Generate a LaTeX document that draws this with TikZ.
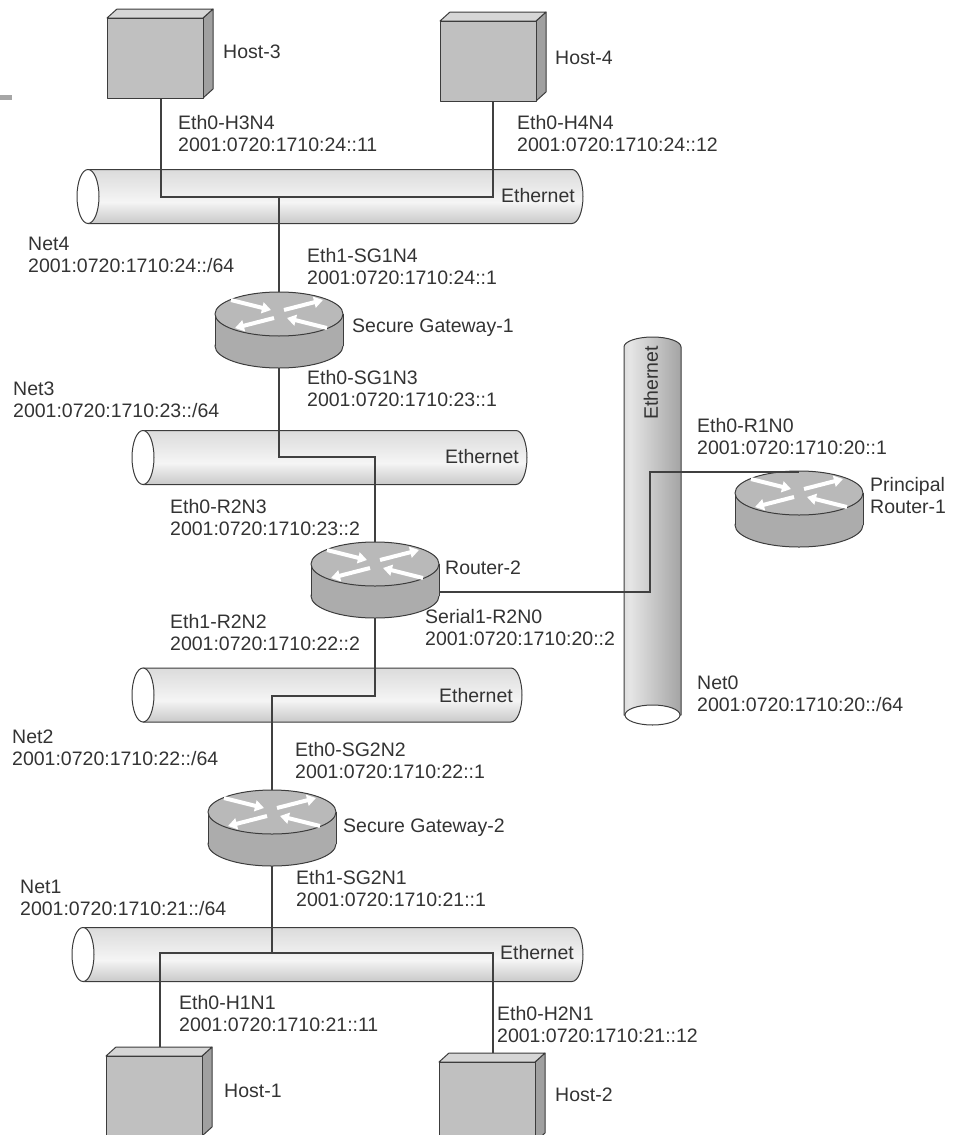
\documentclass[tikz,border=0pt]{standalone}
\usepackage{fontspec}
\setmainfont{Liberation Sans}
\usetikzlibrary{positioning,calc,arrows.meta}
\definecolor{edge}{HTML}{3C3C3C}
\definecolor{wirec}{HTML}{404040}
\definecolor{txt}{HTML}{333333}
\definecolor{hostfront}{HTML}{C0C0C0}
\definecolor{hosttop}{HTML}{D6D6D6}
\definecolor{hostside}{HTML}{A0A0A0}
\definecolor{routertop}{HTML}{B9B9B9}
\definecolor{routerside}{HTML}{ACACAC}
\pgfdeclareverticalshading{hcylshade}{100bp}{color(0bp)=(black!42); color(15bp)=(black!30); color(45bp)=(black!4); color(75bp)=(black!14); color(100bp)=(black!40)}
\pgfdeclarehorizontalshading{vcylshade}{100bp}{color(0bp)=(black!30); color(30bp)=(black!10); color(100bp)=(black!50)}

\tikzset{
  lbl/.style={inner sep=0pt, anchor=west, align=left, text=txt, font=\fontsize{19.5}{22}\selectfont},
  wire/.style={draw=wirec, line width=1.3pt},
  outl/.style={draw=edge, line width=1pt, line join=round},
  pics/host/.style={code={
    \filldraw[outl, fill=hostside] (48,-40) -- (58,-49) -- (58,31) -- (48,40) -- cycle;
    \filldraw[outl, fill=hosttop] (-48,-40) -- (-38,-49) -- (58,-49) -- (48,-40) -- cycle;
    \node[outl, fill=hostfront, minimum width=96pt, minimum height=80pt, inner sep=0pt] (-box) at (0,0) {};
  }},
  pics/router/.style={code={
    \filldraw[outl, fill=routerside] (0,16) ellipse[x radius=64, y radius=22];
    \fill[routerside] (-64,-16) rectangle (64,16);
    \draw[outl] (-64,-16) -- (-64,16) (64,-16) -- (64,16);
    \filldraw[outl, fill=routertop] (0,-16) ellipse[x radius=64, y radius=22];
    \begin{scope}[white, line width=4pt, -{Triangle[length=9pt,width=11pt]}]
      \draw (5,-20) -- (44,-30);
      \draw (-5,-12) -- (-44,-2);
      \draw (-48,-30) -- (-8,-20);
      \draw (48,-2) -- (8,-12);
    \end{scope}
    \node[minimum width=128pt, minimum height=76pt, inner sep=0pt] (-box) at (0,0) {};
  }},
  pics/hcyl/.style={code={
    \shade[shading=hcylshade, outl] (0,-27) -- ({#1-11},-27) arc[start angle=-90, end angle=90, x radius=11, y radius=27] -- (0,27) -- cycle;
    \filldraw[outl, fill=white] (0,0) ellipse[x radius=11, y radius=27];
    \node[minimum width={#1+11}, minimum height=54pt, inner sep=0pt, anchor=west] (-box) at (-11,0) {};
  }}
}

\begin{document}
\begin{tikzpicture}[x=1pt,y=-1pt]
\useasboundingbox (0,0) rectangle (959,1135);
\fill[black!35] (0,95) rectangle (12,100);

\pic (netfour) at (88,196.5) {hcyl=495};
\pic (netthree) at (143,457.5) {hcyl=384};
\pic (nettwo) at (143,695) {hcyl=379};
\pic (netone) at (83,954.5) {hcyl=500};
\shade[shading=vcylshade, outl] (624,715) -- (624,347) arc[start angle=180, end angle=360, x radius=28.5, y radius=10] -- (681,715) -- cycle;
\filldraw[outl, fill=white] (652.5,715) ellipse[x radius=27.5, y radius=10];
\node[minimum width=57pt, minimum height=398pt, inner sep=0pt] (netzero) at (652.5,531) {};

\pic (hostc) at (155,58) {host};
\pic (hostd) at (488,61) {host};
\pic (hosta) at (154,1096) {host};
\pic (hostb) at (487,1102) {host};
\pic (sgone) at (279,330) {router};
\pic (rtwo) at (375,580) {router};
\pic (sgtwo) at (272,828) {router};
\pic (prone) at (799,509) {router};

\coordinate (a4) at (161,197);
\coordinate (b4) at (493,197);
\coordinate (c4) at (279,197);
\coordinate (a3) at (279,457);
\coordinate (b3) at (375,457);
\coordinate (a2) at (375,696);
\coordinate (b2) at (272,696);
\coordinate (a1) at (160,953);
\coordinate (b1) at (493,953);
\coordinate (c1) at (272,953);
\coordinate (a0) at (650,592);
\coordinate (b0) at (650,472);

\draw[wire] (hostc-box.south -| a4) -- (a4) -- (b4) -- (hostd-box.south -| b4);
\draw[wire] (c4) -- (sgone-box.north);
\draw[wire] (sgone-box.south) -- (a3) -- (b3) -- (rtwo-box.north);
\draw[wire] (rtwo-box.south) -- (a2) -- (b2) -- (sgtwo-box.north);
\draw[wire] (sgtwo-box.south) -- (c1);
\draw[wire] ([yshift=9pt]hosta-box.north -| a1) -- (a1) -- (b1) -- ([yshift=9pt]hostb-box.north -| b1);
\draw[wire] (rtwo-box.east |- a0) -- (a0) -- (b0) -- (b0 -| prone-box.north);

\node[lbl] at (223,52) {Host-3};
\node[lbl] at (555,58) {Host-4};
\node[lbl] at (224,1091) {Host-1};
\node[lbl] at (555,1095) {Host-2};
\node[lbl] at (352,328) {Secure Gateway-1};
\node[lbl] at (445,568) {Router-2};
\node[lbl] at (343,828) {Secure Gateway-2};
\node[lbl] at (870,496) {Principal\\Router-1};

\node[lbl, anchor=east] at (575,196) {Ethernet};
\node[lbl, anchor=east] at (519,457) {Ethernet};
\node[lbl, anchor=east] at (513,696) {Ethernet};
\node[lbl, anchor=east] at (574,953) {Ethernet};
\node[lbl, anchor=center, rotate=90] at (651,383) {Ethernet};

\node[lbl] at (178,134) {Eth0-H3N4\\2001:0720:1710:24::11};
\node[lbl] at (517,134) {Eth0-H4N4\\2001:0720:1710:24::12};
\node[lbl] at (28,255) {Net4\\2001:0720:1710:24::/64};
\node[lbl] at (307,267) {Eth1-SG1N4\\2001:0720:1710:24::1};
\node[lbl] at (307,389) {Eth0-SG1N3\\2001:0720:1710:23::1};
\node[lbl] at (13,400) {Net3\\2001:0720:1710:23::/64};
\node[lbl] at (170,518) {Eth0-R2N3\\2001:0720:1710:23::2};
\node[lbl] at (170,633) {Eth1-R2N2\\2001:0720:1710:22::2};
\node[lbl] at (425,628) {Serial1-R2N0\\2001:0720:1710:20::2};
\node[lbl] at (12,748) {Net2\\2001:0720:1710:22::/64};
\node[lbl] at (295,761) {Eth0-SG2N2\\2001:0720:1710:22::1};
\node[lbl] at (296,889) {Eth1-SG2N1\\2001:0720:1710:21::1};
\node[lbl] at (20,898) {Net1\\2001:0720:1710:21::/64};
\node[lbl] at (179,1014) {Eth0-H1N1\\2001:0720:1710:21::11};
\node[lbl] at (497,1025) {Eth0-H2N1\\2001:0720:1710:21::12};
\node[lbl] at (697,437) {Eth0-R1N0\\2001:0720:1710:20::1};
\node[lbl] at (697,694) {Net0\\2001:0720:1710:20::/64};
\end{tikzpicture}
\end{document}
